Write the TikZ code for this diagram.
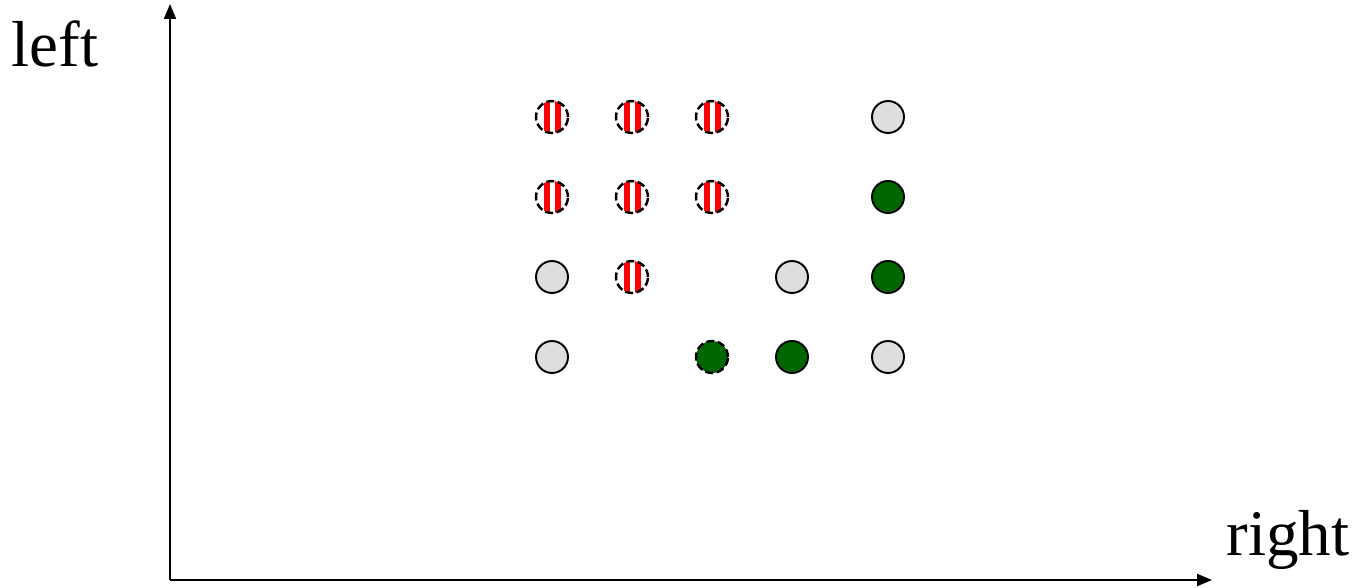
\documentclass[tikz,border=0pt]{standalone}
\usepackage{fontspec}
\setmainfont{Liberation Serif}
\usetikzlibrary{arrows.meta}
\tikzset{
  dot/.style={draw,circle,line width=1.1pt,minimum size=.64cm,inner sep=0pt},
  grey/.style={dot,fill=black!13},
  dkgreen/.style={dot,fill=green!40!black},
  broken/.style={line width=1.4pt,dash pattern=on 4.5pt off 2pt},
  stripes/.style={dot,broken,
    path picture={\foreach \s in {-8.5,2.5}{\fill[red] ([xshift=\s*.02cm]path picture bounding box.center)++(0,-20) rectangle ++(6,40);}}},
  axis/.style={line width=1.2pt,-{Triangle[length=.3cm,width=.24cm]}}
}
\begin{document}
\begin{tikzpicture}[x=.02cm,y=-.02cm]
\useasboundingbox (0,0) rectangle (1353,588);
% axes
\coordinate (origin) at (170,580);
\coordinate (ytop) at (170,4);
\coordinate (xend) at (1212,580);
\draw[axis] (origin)--(ytop);
\draw[axis] (origin)--(xend);
\node (lbl-left) at (55,44) {\fontsize{37}{40}\selectfont left};
\node (lbl-right) at (1288,540) {\fontsize{37}{40}\selectfont right};
% row 1
\foreach \n/\x in {1/552,2/632,3/712}{\node[stripes] (a\n) at (\x,117) {};}
\node[grey] (a5) at (888,117) {};
% row 2
\foreach \n/\x in {1/552,2/632,3/712}{\node[stripes] (b\n) at (\x,197) {};}
\node[dkgreen] (b5) at (888,197) {};
% row 3
\node[grey] (c1) at (552,277) {};
\node[stripes] (c2) at (632,277) {};
\node[grey] (c4) at (792,277) {};
\node[dkgreen] (c5) at (888,277) {};
% row 4
\node[grey] (d1) at (552,357) {};
\node[dkgreen,broken] (d3) at (712,357) {};
\node[dkgreen] (d4) at (792,357) {};
\node[grey] (d5) at (888,357) {};
\end{tikzpicture}
\end{document}
